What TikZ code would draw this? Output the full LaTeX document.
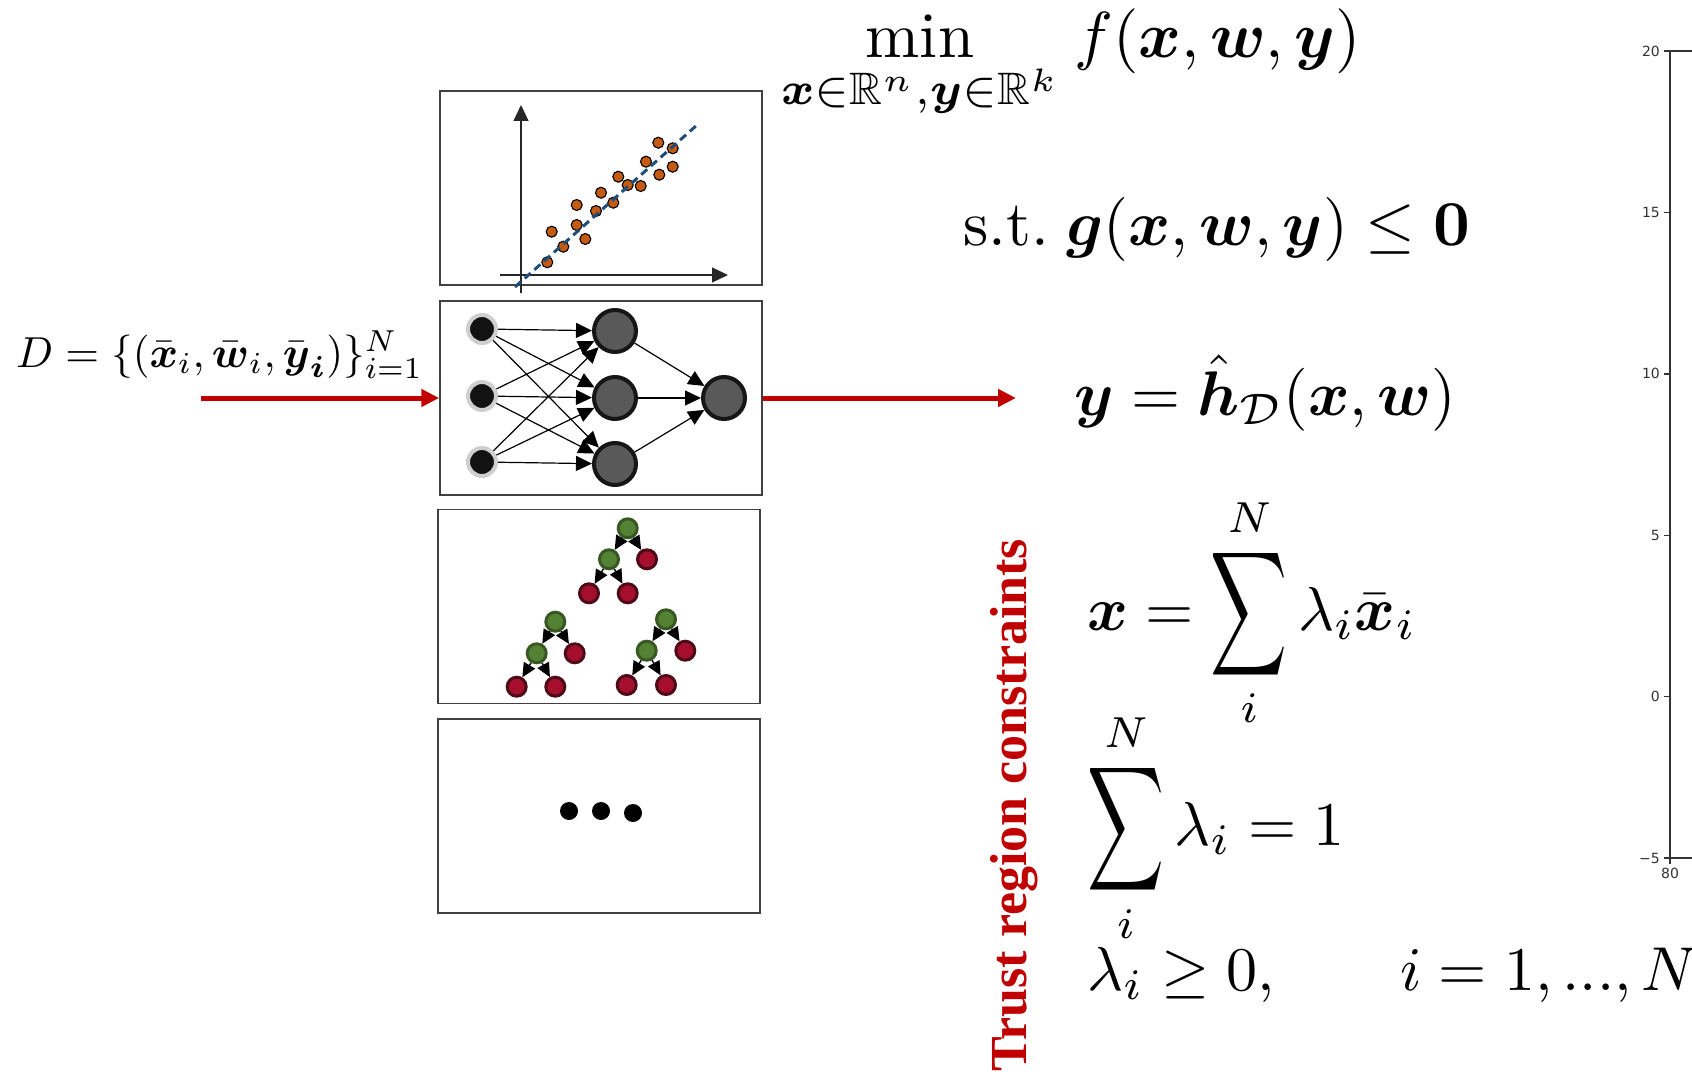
\documentclass[tikz,border=0pt]{standalone}
\usepackage{amsmath,amssymb}
\usepackage{graphicx}
\usepackage{fontspec}
\usetikzlibrary{arrows.meta}
\newfontfamily\trfont{Liberation Serif}
\newfontfamily\axfont{DejaVu Sans}
\definecolor{trred}{HTML}{C00000}
\definecolor{boxgray}{HTML}{404040}
\definecolor{dotorange}{HTML}{C55A11}
\definecolor{fitblue}{HTML}{1F4E79}
\definecolor{ringgray}{HTML}{CFCFCF}
\definecolor{hidfill}{HTML}{595959}
\definecolor{hiddraw}{HTML}{161616}
\definecolor{leafgreen}{HTML}{548235}
\definecolor{leafgreend}{HTML}{385723}
\definecolor{leafred}{HTML}{A50F2D}
\definecolor{leafredd}{HTML}{4D0A17}
\definecolor{axgray}{HTML}{333333}
\newcommand{\tallsum}{\mathop{\vcenter{\hbox{\scalebox{0.86}[1.4]{$\displaystyle\sum$}}}}\limits}
\tikzset{
  panel/.style={draw=boxgray, line width=1.5pt, minimum width=322pt, minimum height=194pt, inner sep=0pt},
  innode/.style={circle, fill=black!93, draw=ringgray, line width=4pt, minimum size=28pt, inner sep=0pt},
  hidnode/.style={circle, fill=hidfill, draw=hiddraw, line width=4pt, minimum size=42pt, inner sep=0pt},
  nnedge/.style={line width=1.2pt, -{Triangle[length=16pt,width=15pt]}},
  gnode/.style={circle, fill=leafgreen, draw=leafgreend, line width=3pt, minimum size=19pt, inner sep=0pt},
  rnode/.style={circle, fill=leafred, draw=leafredd, line width=3pt, minimum size=19pt, inner sep=0pt},
  tedge/.style={line width=1.4pt, -{Triangle[length=14pt,width=13pt]}},
  redarrow/.style={line width=5pt, trred, -{Triangle[length=18pt,width=17pt]}},
  sdot/.style={fill=dotorange, draw=black, line width=1.1pt},
  axline/.style={draw=axgray, line width=1.4pt},
  axlabel/.style={font=\axfont\fontsize{14}{16}\selectfont, text=axgray, inner sep=0pt},
  formula/.style={inner sep=0pt, anchor=base west},
}
\begin{document}
\begin{tikzpicture}[x=1pt,y=-1pt]
\useasboundingbox[fill=white] (0,0) rectangle (1692,1078);

% ---------- panels ----------
\node[panel] (b1) at (601,188) {};
\node[panel] (b2) at (601,398) {};
\node[panel] (b3) at (599,606.5) {};
\node[panel] (b4) at (599,816) {};

% ---------- scatter plot ----------
\draw[line width=1.2pt, black!85, -{Triangle[length=16pt,width=15pt]}] (521,293) -- (521,105);
\draw[line width=1.2pt, black!85, -{Triangle[length=16pt,width=15pt]}] (500,275) -- (728,275);
\foreach \px/\py in {547.3/262.3, 563.3/246.7, 551.7/231.7, 576.7/225, 585.3/239, 576.7/205, 596/211, 601/192.7, 613.3/202.7, 618.3/176.7, 627.7/185, 640.7/186, 646/161.7, 659.3/174.7, 658.3/142.7, 672.7/148.3, 672.7/166.7}
  \filldraw[sdot] (\px,\py) circle (5.5);
\draw[fitblue, line width=3pt, dash pattern=on 8pt off 5pt] (515,287) -- (697,125);

% ---------- neural network ----------
\node[innode] (i1) at (482,329) {};
\node[innode] (i2) at (482,396) {};
\node[innode] (i3) at (482,462) {};
\node[hidnode] (h1) at (615,331) {};
\node[hidnode] (h2) at (615,398) {};
\node[hidnode] (h3) at (615,464) {};
\node[hidnode] (o1) at (724,398) {};
\foreach \a in {i1,i2,i3}
  \foreach \b in {h1,h2,h3}
    \draw[nnedge] (\a) -- (\b);
\foreach \b in {h1,h2,h3}
  \draw[nnedge] (\b) -- (o1);

% ---------- trees ----------
\node[gnode] (t1r) at (627.7,528.3) {};
\node[gnode] (t1a) at (609,559.3) {};
\node[rnode] (t1b) at (647,559.3) {};
\node[rnode] (t1c) at (589,593.3) {};
\node[rnode] (t1d) at (627.7,593.3) {};
\node[gnode] (t2r) at (555.3,621.7) {};
\node[gnode] (t2a) at (536.7,653.3) {};
\node[rnode] (t2b) at (574.7,653.3) {};
\node[rnode] (t2c) at (516.7,686.7) {};
\node[rnode] (t2d) at (555.3,686.7) {};
\node[gnode] (t3r) at (666,619.3) {};
\node[gnode] (t3a) at (646.7,650.7) {};
\node[rnode] (t3b) at (685.3,650.7) {};
\node[rnode] (t3c) at (626.7,685) {};
\node[rnode] (t3d) at (666,685) {};
\foreach \t in {t1,t2,t3}{
  \draw[tedge] (\t r) -- (\t a);
  \draw[tedge] (\t r) -- (\t b);
  \draw[tedge] (\t a) -- (\t c);
  \draw[tedge] (\t a) -- (\t d);
}

% ---------- ellipsis panel ----------
\fill (569,811) circle (9);
\fill (601,811) circle (9);
\fill (633,813) circle (9);

% ---------- data set and arrows ----------
\node[formula] (dset) at (16,367) {\resizebox{407pt}{!}{$D=\{(\bar{\boldsymbol x}_i,\bar{\boldsymbol w}_i,\bar{\boldsymbol y}_{\boldsymbol i})\}_{i=1}^N$}};
\coordinate (dstart) at (201,398);
\coordinate (hend) at (1016,398);
\draw[redarrow] (dstart) -- (b2.west);
\draw[redarrow] (b2.east) -- (hend);

% ---------- optimisation problem ----------
\node[inner sep=0pt, anchor=base] (minop) at (920,58) {\scalebox{6.5}{$\displaystyle\min_{\boldsymbol x\in\mathbb R^n,\boldsymbol y\in\mathbb R^k}$}};
\node[formula] (obj) at (1074,58) {\scalebox{6.5}{$f(\boldsymbol x,\boldsymbol w,\boldsymbol y)$}};
\node[formula] (cons) at (963,246) {\scalebox{6.4}{$\text{s.t.}\;\boldsymbol g(\boldsymbol x,\boldsymbol w,\boldsymbol y)\le\boldsymbol 0$}};
\node[formula] (surr) at (1074,415) {\scalebox{6.3}{$\boldsymbol y=\hat{\boldsymbol h}_{\mathcal D}(\boldsymbol x,\boldsymbol w)$}};

% ---------- trust region ----------
\node[rotate=90, inner sep=0pt, text=trred, font=\trfont\bfseries\fontsize{52}{60}\selectfont] (trc) at (1014,805) {Trust region constraints};
\node[formula] (tra) at (1087,630) {\scalebox{6.2}{$\boldsymbol x=\tallsum_i^N\lambda_i\bar{\boldsymbol x}_i$}};
\node[formula] (trb) at (1087,845) {\scalebox{6.2}{$\tallsum_i^N\lambda_i=1$}};
\node[formula] (trc1) at (1087,990) {\scalebox{6.2}{$\lambda_i\ge 0,$}};
\node[formula] (trc2) at (1400,990) {\scalebox{6.2}{$i=1,{.}{.}{.},N$}};

% ---------- axis fragment ----------
\draw[axline] (1670,51) -- (1670,858);
\draw[axline] (1664,51) -- (1692,51);
\draw[axline] (1664,858) -- (1692,858);
\draw[axline] (1670,858) -- (1670,864);
\foreach \yy in {212.4,373.8,535.2,696.6}
  \draw[axline] (1664,\yy) -- (1670,\yy);
\node[axlabel, anchor=east] (l20) at (1660,51) {20};
\node[axlabel, anchor=east] (l15) at (1660,212.4) {15};
\node[axlabel, anchor=east] (l10) at (1660,373.8) {10};
\node[axlabel, anchor=east] (l5) at (1660,535.2) {5};
\node[axlabel, anchor=east] (l0) at (1660,696.6) {0};
\node[axlabel, anchor=east] (lm5) at (1660,858) {−5};
\node[axlabel, anchor=north] (l80) at (1670,868) {80};
\end{tikzpicture}
\end{document}
